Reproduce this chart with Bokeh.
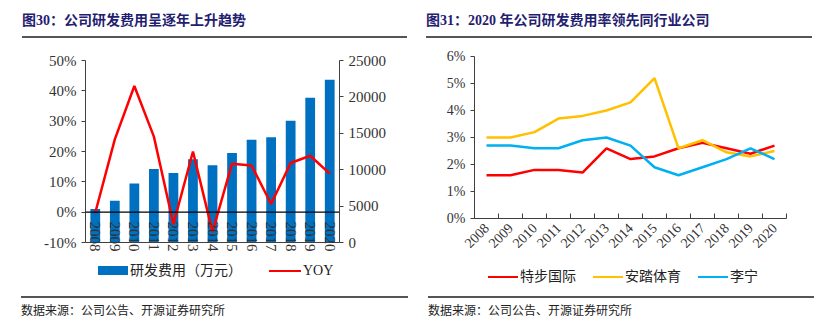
from math import pi
from bokeh.plotting import figure
from bokeh.models import (Div, Range1d, FactorRange, LinearAxis, FixedTicker,
                          NumeralTickFormatter, Span)
from bokeh.layouts import row, column
from bokeh.embed import file_html
from bokeh.resources import INLINE

# ---------------- data ----------------
years = [str(y) for y in range(2008, 2021)]
rd_expense = [4600, 5740, 8120, 10100, 9550, 11420, 10600, 12300, 14130, 14450, 16740, 19870, 22340]
yoy = [-0.002, 0.24, 0.416, 0.249, -0.04, 0.20, -0.065, 0.16, 0.154, 0.027, 0.162, 0.186, 0.127]

xtep = [1.6, 1.6, 1.8, 1.8, 1.7, 2.6, 2.2, 2.3, 2.6, 2.8, 2.6, 2.4, 2.7]
anta = [3.0, 3.0, 3.2, 3.7, 3.8, 4.0, 4.3, 5.2, 2.6, 2.9, 2.45, 2.3, 2.5]
lining = [2.7, 2.7, 2.6, 2.6, 2.9, 3.0, 2.7, 1.9, 1.6, 1.9, 2.2, 2.6, 2.2]

left_ticks = [-0.1, 0.0, 0.1, 0.2, 0.3, 0.4, 0.5]
right_ticks = [0, 5000, 10000, 15000, 20000, 25000]
rate_ticks = [0.0, 0.01, 0.02, 0.03, 0.04, 0.05, 0.06]

title_left = "图30：公司研发费用呈逐年上升趋势"
title_right = "图31：2020 年公司研发费用率领先同行业公司"
source_text = "数据来源：公司公告、开源证券研究所"
legend_left = ["研发费用（万元）", "YOY"]
legend_right = ["特步国际", "安踏体育", "李宁"]

C_BAR = "#0070C0"
C_RED = "#FF0000"
C_YEL = "#FFC000"
C_BLU = "#00B0F0"

SERIF = "Liberation Serif, Noto Sans CJK SC"
TXT = "#333333"
AX = "#404040"


def title_div(text, left, width, total):
    html = (f'<div style="margin-left:{left}px;width:{width}px;border-bottom:2px solid #555555;'
            f'padding:4px 0 6px 0;font-family:{SERIF};font-weight:bold;font-size:14px;'
            f'line-height:18px;color:#1f2170;white-space:nowrap">{text}</div>')
    return Div(text=html, width=total, height=31, margin=0)


def foot_div(text, left, width, total):
    html = (f'<div style="margin-left:{left}px;width:{width}px;border-top:2px solid #555555;'
            f'padding-top:5px;font-family:{SERIF};font-size:12px;line-height:16px;'
            f'color:#222222;white-space:nowrap">{text}</div>')
    return Div(text=html, width=total, height=28, margin=0)


def legend_div(items, left, pad_top, font_size, gap, line_w, total, height):
    parts = []
    for i, (label, color, kind) in enumerate(items):
        ml = 0 if i == 0 else gap
        if kind == "bar":
            sw = (f'<span style="display:inline-block;width:30px;height:9px;background:{color};'
                  f'margin:0 2px 0 {ml}px"></span>')
        else:
            sw = (f'<span style="display:inline-block;width:{line_w}px;height:2px;background:{color};'
                  f'margin:0 2px 0 {ml}px"></span>')
        parts.append(sw + f'<span>{label}</span>')
    html = (f'<div style="display:flex;align-items:center;margin-left:{left}px;padding-top:{pad_top}px;'
            f'height:16px;line-height:16px;font-family:{SERIF};font-size:{font_size};color:#222222;'
            f'white-space:nowrap">' + "".join(parts) + '</div>')
    return Div(text=html, width=total, height=height, margin=0)


def style_axis(ax, size):
    ax.axis_line_color = AX
    ax.axis_line_width = 1
    ax.major_tick_line_color = AX
    ax.minor_tick_line_color = None
    ax.major_label_text_font = SERIF
    ax.major_label_text_font_size = size
    ax.major_label_text_color = TXT


# ---------------- left chart ----------------
p1 = figure(width=407, height=218, x_range=FactorRange(*years), y_range=Range1d(-0.1, 0.5),
            output_backend="svg", toolbar_location=None, margin=0,
            min_border_left=77, min_border_right=76, min_border_top=21, min_border_bottom=15)
p1.extra_y_ranges = {"amt": Range1d(0, 25000)}
p1.outline_line_color = None
p1.xgrid.visible = False
p1.ygrid.visible = False

p1.vbar(x=years, top=rd_expense, width=0.5, y_range_name="amt", fill_color=C_BAR, line_color=None)
p1.add_layout(Span(location=0, dimension="width", line_color="black", line_width=1.2))
p1.line(x=years, y=yoy, line_color=C_RED, line_width=2.5)

style_axis(p1.yaxis[0], "15px")
p1.yaxis[0].ticker = FixedTicker(ticks=left_ticks)
p1.yaxis[0].formatter = NumeralTickFormatter(format="0%")
p1.yaxis[0].major_tick_in = 0
p1.yaxis[0].major_tick_out = 4

ax_r = LinearAxis(y_range_name="amt", ticker=FixedTicker(ticks=right_ticks))
style_axis(ax_r, "15px")
ax_r.major_tick_in = 0
ax_r.major_tick_out = 4
p1.add_layout(ax_r, "right")

xa = p1.xaxis[0]
style_axis(xa, "15px")
xa.major_tick_line_color = None
xa.major_label_orientation = "vertical"
xa.major_label_standoff = -27

lg1 = legend_div([(legend_left[0], C_BAR, "bar"), (legend_left[1], C_RED, "line")],
                 left=90, pad_top=11, font_size="14px", gap=27, line_w=32, total=407, height=39)

# ---------------- right chart ----------------
idx = list(range(len(years)))
p2 = figure(width=408, height=225, x_range=Range1d(-0.5, len(years) - 0.5), y_range=Range1d(0, 0.06),
            output_backend="svg", toolbar_location=None, margin=0,
            min_border_left=59, min_border_right=37, min_border_top=17, min_border_bottom=46)
p2.outline_line_color = None
p2.xgrid.visible = False
p2.ygrid.visible = False

p2.line(idx, [v / 100 for v in xtep], line_color=C_RED, line_width=2.5)
p2.line(idx, [v / 100 for v in anta], line_color=C_YEL, line_width=2.5)
p2.line(idx, [v / 100 for v in lining], line_color=C_BLU, line_width=2.5)

ya2 = p2.yaxis[0]
style_axis(ya2, "14px")
ya2.ticker = FixedTicker(ticks=rate_ticks)
ya2.formatter = NumeralTickFormatter(format="0%")
ya2.major_tick_in = 0
ya2.major_tick_out = 4

xa2 = p2.xaxis[0]
style_axis(xa2, "14px")
xa2.ticker = FixedTicker(ticks=idx, minor_ticks=[i - 0.5 for i in range(len(years) + 1)])
xa2.major_label_overrides = {i: y for i, y in zip(idx, years)}
xa2.major_tick_line_color = None
xa2.minor_tick_line_color = AX
xa2.minor_tick_in = 5
xa2.minor_tick_out = 0
xa2.major_label_orientation = pi / 4
xa2.major_label_standoff = 1

lg2 = legend_div([(legend_right[0], C_RED, "line"), (legend_right[1], C_YEL, "line"),
                  (legend_right[2], C_BLU, "line")],
                 left=73, pad_top=10, font_size="14px", gap=17, line_w=30, total=408, height=32)

# ---------------- layout ----------------
left_col = column(title_div(title_left, 14, 385, 407), p1, lg1,
                  foot_div(source_text, 13, 387, 407), spacing=0)
right_col = column(title_div(title_right, 11, 386, 408), p2, lg2,
                   foot_div(source_text, 13, 386, 408), spacing=0)
layout = row(left_col, right_col, spacing=0, margin=(8, 8, 8, 8))

open("out.html", "w").write(file_html(layout, INLINE))
